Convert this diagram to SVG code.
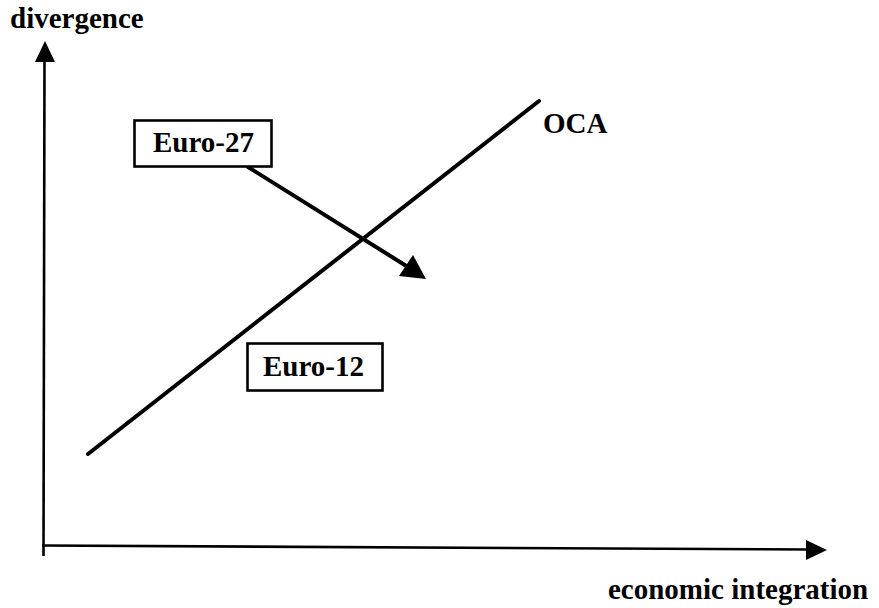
<svg xmlns="http://www.w3.org/2000/svg" width="879" height="608" viewBox="0 0 879 608">
<style>
.t{font-family:"Liberation Serif","Times New Roman",serif;font-weight:bold;font-size:29px;fill:#000}
.ax{stroke:#000;stroke-width:2.6;fill:none}
.ln{stroke:#000;stroke-width:4;fill:none;stroke-linecap:round}
.box{fill:#fff;stroke:#000;stroke-width:2.6}
.hd{fill:#000;stroke:none}
</style>
<rect width="879" height="608" fill="#fff"/>
<g id="connectors">
<line class="ax" x1="43.5" y1="556" x2="44.5" y2="58"/>
<polygon class="hd" points="45,41 55,62 35,62"/>
<line class="ax" x1="42" y1="545.5" x2="810" y2="549.5"/>
<polygon class="hd" points="827,550 806,540 806,560"/>
<line class="ln" x1="88" y1="454" x2="539" y2="101"/>
<line class="ln" x1="248" y1="167" x2="408" y2="267"/>
<polygon class="hd" points="426,279 399,276 413,255"/>
</g>
<g id="y-label"><text class="t" x="10" y="28">divergence</text></g>
<g id="x-label"><text class="t" x="608" y="599">economic integration</text></g>
<g id="oca"><text class="t" x="543" y="133">OCA</text></g>
<g id="euro27">
<rect class="box" x="134.5" y="120.5" width="137" height="46"/>
<text class="t" x="153" y="152">Euro-27</text>
</g>
<g id="euro12">
<rect class="box" x="247.5" y="343.5" width="135" height="47"/>
<text class="t" x="263" y="376">Euro-12</text>
</g>
</svg>
